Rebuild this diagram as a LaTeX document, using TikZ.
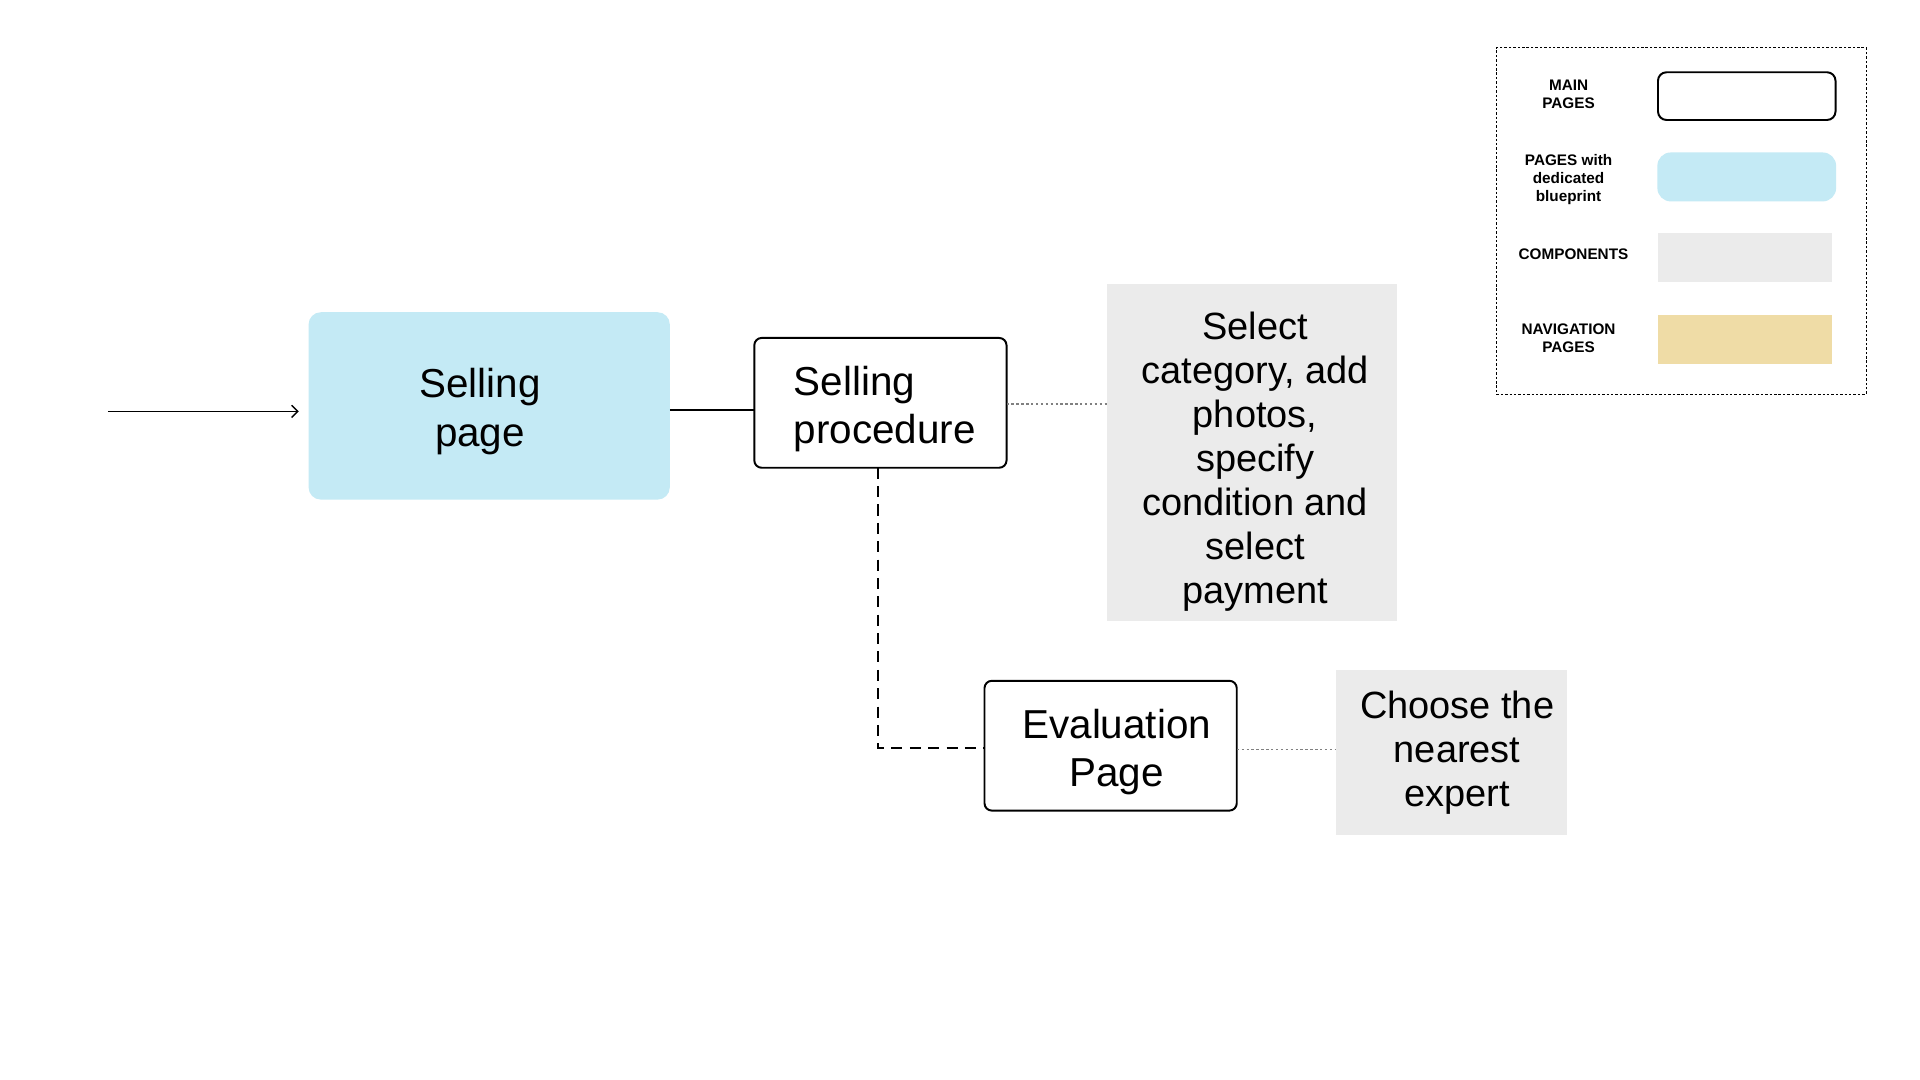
\documentclass[tikz,border=0pt]{standalone}
\usepackage{fontspec}
\setmainfont{Liberation Sans}
\usetikzlibrary{arrows.meta}
\definecolor{pageblue}{HTML}{C4EAF5}
\definecolor{compgray}{HTML}{EBEBEB}
\definecolor{navyellow}{HTML}{EFDCA6}
\definecolor{dotgray}{HTML}{808080}
\tikzset{
  boxbase/.style={inner sep=0pt, outer sep=0pt, anchor=north west},
  mainbox/.style={boxbase, draw=black, line width=1.6pt, fill=white, rounded corners=6pt},
  bluebox/.style={boxbase, fill=pageblue, rounded corners=10pt},
  graybox/.style={boxbase, fill=compgray},
  yellowbox/.style={boxbase, fill=navyellow},
  bigtext/.style={inner sep=0pt, align=center, font=\fontsize{33}{39.5}\selectfont},
  midtext/.style={inner sep=0pt, align=center, font=\fontsize{31}{36}\selectfont},
  legtext/.style={inner sep=0pt, align=center, font=\bfseries\fontsize{12.5}{14.7}\selectfont},
  solidlink/.style={line width=1.4pt},
  dashlink/.style={line width=2pt, dash pattern=on 9pt off 6pt},
  dotlink/.style={draw=dotgray, line width=1pt, dash pattern=on 2pt off 2pt},
}
\begin{document}
\begin{tikzpicture}[x=1pt,y=1pt]
\useasboundingbox (0,0) rectangle (1568,-882);
\fill[white] (0,0) rectangle (1568,-882);

% main nodes
\node[bluebox, minimum width=295pt, minimum height=153pt] (sp) at (252,-255) {};
\node[bigtext] (sptext) at (392,-336) {Selling\\page};

\node[mainbox, minimum width=206pt, minimum height=106pt] (proc) at (616,-276) {};
\node[bigtext, align=left, anchor=west] (proctext) at (648,-334) {Selling\\procedure};

\node[graybox, minimum width=237pt, minimum height=275pt] (comp1) at (904,-232) {};
\node[midtext] (comp1text) at (1025,-377) {Select\\category, add\\photos,\\specify\\condition and\\select\\payment};

\node[mainbox, minimum width=206pt, minimum height=106pt] (eval) at (804,-556) {};
\node[bigtext] (evaltext) at (912,-614) {Evaluation\\Page};

\node[graybox, minimum width=189pt, minimum height=135pt] (comp2) at (1091,-547) {};
\node[midtext] (comp2text) at (1190,-615) {Choose the\\nearest\\expert};

% connectors
\coordinate (entry) at (88,-336);
\draw[line width=1.2pt, -{Straight Barb[length=5pt,width=10pt]}, shorten >=8pt] (entry) -- (entry -| sp.west);
\draw[solidlink] (sp.east |- 0,-335) -- (proc.west |- 0,-335);
\draw[dotlink] (proc.east |- 0,-330) -- (comp1.west |- 0,-330);
\draw[dashlink] (proc.south -| 717,0) |- (eval.west |- 0,-611);
\draw[dotlink] (eval.east |- 0,-612) -- (comp2.west |- 0,-612);

% legend
\node[boxbase, draw=black, line width=1pt, dash pattern=on 2pt off 1.6pt, minimum width=302pt, minimum height=283pt] (legend) at (1222,-39) {};
\node[legtext] (l1text) at (1281,-77) {MAIN\\PAGES};
\node[mainbox, minimum width=145pt, minimum height=39pt, rounded corners=7pt] (l1box) at (1354,-59) {};
\node[legtext] (l2text) at (1281,-147) {PAGES with\\dedicated\\blueprint};
\node[bluebox, minimum width=146pt, minimum height=40pt, rounded corners=11pt] (l2box) at (1353.5,-124.5) {};
\node[legtext] (l3text) at (1285,-208) {COMPONENTS};
\node[graybox, minimum width=142pt, minimum height=40pt] (l3box) at (1354,-190.5) {};
\node[legtext] (l4text) at (1281,-276) {NAVIGATION\\PAGES};
\node[yellowbox, minimum width=142pt, minimum height=40pt] (l4box) at (1354,-257) {};
\end{tikzpicture}
\end{document}
